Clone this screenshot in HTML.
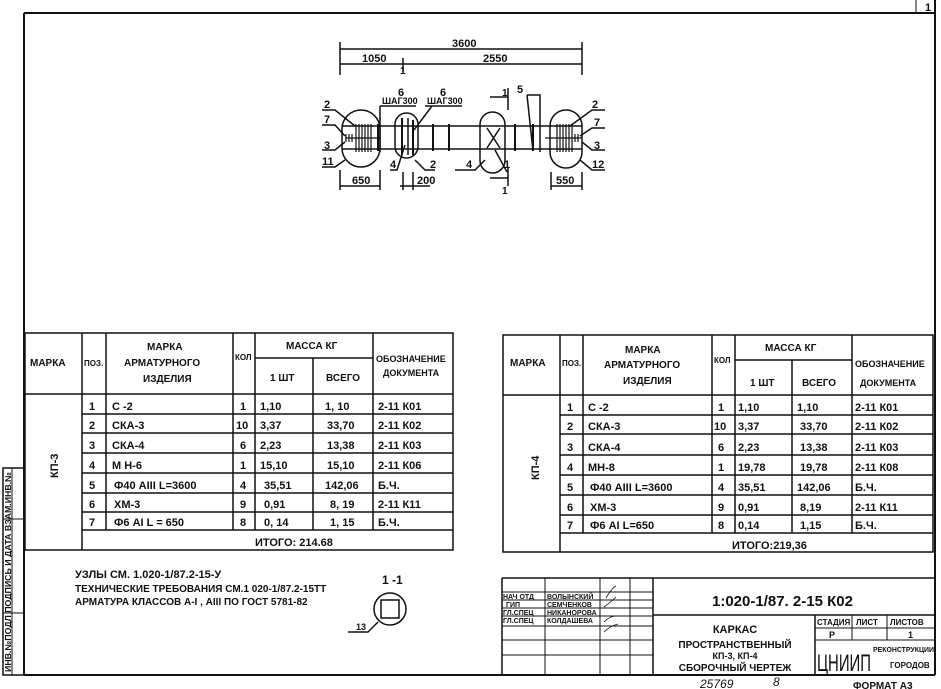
<!DOCTYPE html>
<html><head><meta charset="utf-8">
<style>
html,body{margin:0;padding:0;background:#fff;}
svg{display:block;}
text{font-family:"Liberation Sans Narrow","Liberation Sans",sans-serif;font-weight:bold;fill:#111;}
</style></head><body>
<svg width="941" height="689" viewBox="0 0 941 689" xmlns="http://www.w3.org/2000/svg">
<g stroke="#111" fill="none" stroke-width="2">
<line x1="24" y1="13" x2="935" y2="13"/>
<line x1="24" y1="13" x2="24" y2="675"/>
<line x1="935" y1="0" x2="935" y2="675"/>
<line x1="24" y1="675" x2="935" y2="675"/>
<line x1="916" y1="0" x2="916" y2="13" stroke-width="1"/>
<rect x="3" y="468" width="21" height="207" stroke-width="1.5"/>
<line x1="12" y1="468" x2="12" y2="675" stroke-width="1"/>
<line x1="3" y1="519" x2="24" y2="519" stroke-width="1"/>
<line x1="3" y1="613" x2="24" y2="613" stroke-width="1"/>
</g>
<text x="925" y="11" font-size="11">1</text>
<text transform="translate(11,672) rotate(-90)" font-size="8.5" textLength="200" lengthAdjust="spacingAndGlyphs">ИНВ.№ПОДЛ ПОДПИСЬ И ДАТА ВЗАМ.ИНВ.№</text>

<!-- drawing -->
<g stroke="#111" fill="none" stroke-width="1.5">
<line x1="340" y1="49" x2="582" y2="49"/>
<line x1="340" y1="64" x2="582" y2="64"/>
<line x1="340" y1="42" x2="340" y2="75"/>
<line x1="582" y1="42" x2="582" y2="75"/>
<line x1="403" y1="58" x2="403" y2="72"/>
<line x1="342" y1="126" x2="582" y2="126"/>
<line x1="342" y1="149" x2="582" y2="149"/>
<rect x="342" y="110" width="38" height="57" rx="19"/>
<rect x="395" y="113" width="23" height="45" rx="11.5"/>
<rect x="480" y="112" width="25" height="61" rx="12.5"/>
<rect x="550" y="110" width="32" height="58" rx="16"/>
<g stroke-width="1.2">
<line x1="356" y1="124" x2="356" y2="152"/><line x1="359" y1="124" x2="359" y2="152"/><line x1="362" y1="124" x2="362" y2="152"/><line x1="365" y1="124" x2="365" y2="152"/><line x1="368" y1="124" x2="368" y2="152"/><line x1="371" y1="124" x2="371" y2="152"/>
<line x1="345" y1="138" x2="380" y2="138"/><line x1="346" y1="134" x2="346" y2="142"/><line x1="349" y1="134" x2="349" y2="142"/><line x1="352" y1="134" x2="352" y2="142"/>
<line x1="557" y1="124" x2="557" y2="152"/><line x1="560" y1="124" x2="560" y2="152"/><line x1="563" y1="124" x2="563" y2="152"/><line x1="566" y1="124" x2="566" y2="152"/><line x1="569" y1="124" x2="569" y2="152"/><line x1="572" y1="124" x2="572" y2="152"/>
<line x1="545" y1="138" x2="582" y2="138"/><line x1="575" y1="134" x2="575" y2="142"/><line x1="578" y1="134" x2="578" y2="142"/>
</g>
<line x1="378" y1="124" x2="378" y2="151" stroke-width="2"/>
<line x1="402" y1="118" x2="402" y2="155" stroke-width="2"/>
<line x1="408" y1="118" x2="408" y2="155"/>
<line x1="413" y1="120" x2="413" y2="155" stroke-width="2"/>
<line x1="433" y1="124" x2="433" y2="151" stroke-width="2"/>
<line x1="449" y1="124" x2="449" y2="151" stroke-width="2"/>
<line x1="515" y1="124" x2="515" y2="151" stroke-width="2"/>
<line x1="533" y1="124" x2="533" y2="151" stroke-width="2"/>
<line x1="487" y1="128" x2="500" y2="148"/><line x1="500" y1="128" x2="487" y2="148"/>
<polyline points="322,110 335,110 355,126"/>
<polyline points="322,125 335,125 345,136"/>
<polyline points="322,150 335,150 345,142"/>
<polyline points="322,167 335,167 345,160"/>
<polyline points="380,106 380,152"/><line x1="380" y1="106" x2="416" y2="106"/>
<polyline points="432,106 414,130"/><line x1="425" y1="106" x2="462" y2="106"/>
<polyline points="390,170 397,170 405,145"/>
<polyline points="435,170 425,170 415,160"/>
<polyline points="455,170 475,170 485,160"/>
<polyline points="507,172 495,150"/>
<line x1="508" y1="88" x2="508" y2="110"/><line x1="490" y1="97" x2="508" y2="97"/>
<line x1="508" y1="168" x2="508" y2="186"/><line x1="490" y1="178" x2="508" y2="178"/>
<polyline points="527,95 540,95 540,152"/><line x1="527" y1="95" x2="533" y2="151"/>
<polyline points="605,110 592,110 570,126"/>
<polyline points="605,128 592,128 580,136"/>
<polyline points="605,150 592,150 582,142"/>
<polyline points="605,170 592,170 580,160"/>
<line x1="340" y1="170" x2="340" y2="190"/><line x1="380" y1="170" x2="380" y2="190"/><line x1="340" y1="186" x2="380" y2="186"/>
<line x1="403" y1="172" x2="403" y2="190"/><line x1="413" y1="172" x2="413" y2="190"/><line x1="400" y1="186" x2="430" y2="186"/>
<line x1="551" y1="172" x2="551" y2="190"/><line x1="582" y1="172" x2="582" y2="190"/><line x1="551" y1="186" x2="582" y2="186"/>
</g>
<g font-size="11">
<text x="452" y="47">3600</text>
<text x="362" y="62">1050</text>
<text x="483" y="62">2550</text>
<text x="400" y="74" font-size="10">1</text>
<text x="398" y="96">6</text><text x="382" y="104" font-size="9">ШАГ300</text>
<text x="440" y="96">6</text><text x="427" y="104" font-size="9">ШАГ300</text>
<text x="517" y="93">5</text>
<text x="502" y="96" font-size="10">1</text>
<text x="502" y="194" font-size="10">1</text>
<text x="324" y="108">2</text><text x="324" y="123">7</text><text x="324" y="149">3</text><text x="322" y="165">11</text>
<text x="592" y="108">2</text><text x="594" y="126">7</text><text x="594" y="149">3</text><text x="592" y="168">12</text>
<text x="390" y="168">4</text><text x="430" y="168">2</text><text x="466" y="168">4</text><text x="504" y="168">1</text>
<text x="352" y="184">650</text><text x="417" y="184">200</text><text x="556" y="184">550</text>
</g>

<!-- left table -->
<g stroke="#111" fill="none" stroke-width="1.5">
<rect x="25" y="333" width="428" height="217"/>
<line x1="25" y1="394" x2="453" y2="394"/>
<line x1="82" y1="333" x2="82" y2="550"/>
<line x1="106" y1="333" x2="106" y2="530"/>
<line x1="233" y1="333" x2="233" y2="530"/>
<line x1="255" y1="333" x2="255" y2="530"/>
<line x1="313" y1="358" x2="313" y2="530"/>
<line x1="373" y1="333" x2="373" y2="530"/>
<line x1="255" y1="358" x2="373" y2="358"/>
<line x1="82" y1="414" x2="453" y2="414"/><line x1="82" y1="433" x2="453" y2="433"/><line x1="82" y1="453" x2="453" y2="453"/><line x1="82" y1="473" x2="453" y2="473"/><line x1="82" y1="493" x2="453" y2="493"/><line x1="82" y1="512" x2="453" y2="512"/><line x1="82" y1="530" x2="453" y2="530"/>
</g>
<g font-size="10">
<text x="30" y="366">МАРКА</text><text x="84" y="366" font-size="8">ПОЗ.</text>
<text x="147" y="350">МАРКА</text><text x="124" y="366">АРМАТУРНОГО</text><text x="143" y="382">ИЗДЕЛИЯ</text>
<text x="235" y="360" font-size="8">КОЛ</text>
<text x="286" y="349">МАССА КГ</text><text x="270" y="381">1 ШТ</text><text x="326" y="381">ВСЕГО</text>
<text x="376" y="362" font-size="9">ОБОЗНАЧЕНИЕ</text><text x="383" y="376" font-size="9">ДОКУМЕНТА</text>
</g>
<text transform="translate(58,478) rotate(-90)" font-size="11">КП-3</text>
<g font-size="11">
<text x="89" y="410">1</text><text x="112" y="410">С -2</text><text x="240" y="410">1</text><text x="260" y="410">1,10</text><text x="325" y="410">1, 10</text><text x="378" y="410">2-11  К01</text>
<text x="89" y="429">2</text><text x="112" y="429">СКА-3</text><text x="236" y="429">10</text><text x="260" y="429">3,37</text><text x="327" y="429">33,70</text><text x="378" y="429">2-11  К02</text>
<text x="89" y="449">3</text><text x="112" y="449">СКА-4</text><text x="240" y="449">6</text><text x="260" y="449">2,23</text><text x="327" y="449">13,38</text><text x="378" y="449">2-11  К03</text>
<text x="89" y="469">4</text><text x="112" y="469">М Н-6</text><text x="240" y="469">1</text><text x="260" y="469">15,10</text><text x="327" y="469">15,10</text><text x="378" y="469">2-11 К06</text>
<text x="89" y="489">5</text><text x="114" y="489">Ф40 АIII  L=3600</text><text x="240" y="489">4</text><text x="264" y="489">35,51</text><text x="325" y="489">142,06</text><text x="378" y="489">Б.Ч.</text>
<text x="89" y="508">6</text><text x="114" y="508">ХМ-3</text><text x="240" y="508">9</text><text x="264" y="508">0,91</text><text x="330" y="508">8, 19</text><text x="378" y="508">2-11  К11</text>
<text x="89" y="526">7</text><text x="114" y="526">Ф6 АI   L = 650</text><text x="240" y="526">8</text><text x="264" y="526">0, 14</text><text x="330" y="526">1, 15</text><text x="378" y="526">Б.Ч.</text>
<text x="255" y="546">ИТОГО:  214.68</text>
</g>

<!-- right table -->
<g stroke="#111" fill="none" stroke-width="1.5">
<rect x="503" y="335" width="430" height="217"/>
<line x1="503" y1="395" x2="933" y2="395"/>
<line x1="560" y1="335" x2="560" y2="552"/>
<line x1="583" y1="335" x2="583" y2="533"/>
<line x1="712" y1="335" x2="712" y2="533"/>
<line x1="735" y1="335" x2="735" y2="533"/>
<line x1="792" y1="360" x2="792" y2="533"/>
<line x1="852" y1="335" x2="852" y2="533"/>
<line x1="735" y1="360" x2="852" y2="360"/>
<line x1="560" y1="415" x2="933" y2="415"/><line x1="560" y1="434" x2="933" y2="434"/><line x1="560" y1="455" x2="933" y2="455"/><line x1="560" y1="475" x2="933" y2="475"/><line x1="560" y1="495" x2="933" y2="495"/><line x1="560" y1="515" x2="933" y2="515"/><line x1="560" y1="533" x2="933" y2="533"/>
</g>
<g font-size="10">
<text x="510" y="366">МАРКА</text><text x="562" y="366" font-size="8">ПОЗ.</text>
<text x="625" y="353">МАРКА</text><text x="604" y="368">АРМАТУРНОГО</text><text x="623" y="384">ИЗДЕЛИЯ</text>
<text x="714" y="363" font-size="8">КОЛ</text>
<text x="765" y="351">МАССА КГ</text><text x="750" y="386">1 ШТ</text><text x="802" y="386">ВСЕГО</text>
<text x="855" y="367" font-size="9">ОБОЗНАЧЕНИЕ</text><text x="860" y="386" font-size="9">ДОКУМЕНТА</text>
</g>
<text transform="translate(539,480) rotate(-90)" font-size="11">КП-4</text>
<g font-size="11">
<text x="567" y="411">1</text><text x="588" y="411">С -2</text><text x="718" y="411">1</text><text x="738" y="411">1,10</text><text x="797" y="411">1,10</text><text x="855" y="411">2-11 К01</text>
<text x="567" y="430">2</text><text x="588" y="430">СКА-3</text><text x="714" y="430">10</text><text x="738" y="430">3,37</text><text x="800" y="430">33,70</text><text x="855" y="430">2-11 К02</text>
<text x="567" y="451">3</text><text x="588" y="451">СКА-4</text><text x="718" y="451">6</text><text x="738" y="451">2,23</text><text x="800" y="451">13,38</text><text x="855" y="451">2-11 К03</text>
<text x="567" y="471">4</text><text x="588" y="471">МН-8</text><text x="718" y="471">1</text><text x="738" y="471">19,78</text><text x="800" y="471">19,78</text><text x="855" y="471">2-11 К08</text>
<text x="567" y="491">5</text><text x="590" y="491">Ф40 АIII  L=3600</text><text x="718" y="491">4</text><text x="738" y="491">35,51</text><text x="797" y="491">142,06</text><text x="855" y="491">Б.Ч.</text>
<text x="567" y="511">6</text><text x="590" y="511">ХМ-3</text><text x="718" y="511">9</text><text x="738" y="511">0,91</text><text x="800" y="511">8,19</text><text x="855" y="511">2-11 К11</text>
<text x="567" y="529">7</text><text x="590" y="529">Ф6 АI     L=650</text><text x="718" y="529">8</text><text x="738" y="529">0,14</text><text x="800" y="529">1,15</text><text x="855" y="529">Б.Ч.</text>
<text x="732" y="549">ИТОГО:219,36</text>
</g>

<!-- notes -->
<g font-size="10">
<text x="75" y="578" font-size="11">УЗЛЫ СМ. 1.020-1/87.2-15-У</text>
<text x="75" y="592">ТЕХНИЧЕСКИЕ ТРЕБОВАНИЯ СМ.1 020-1/87.2-15ТТ</text>
<text x="75" y="605">АРМАТУРА КЛАССОВ А-I    , АIII ПО ГОСТ 5781-82</text>
<text x="382" y="584" font-size="12">1 -1</text>
<text x="356" y="630" font-size="9">13</text>
</g>
<g stroke="#111" fill="none" stroke-width="1.5">
<circle cx="390" cy="609" r="16"/>
<rect x="381" y="600" width="18" height="18"/>
<polyline points="348,632 368,632 378,622"/>
</g>

<!-- title block -->
<g stroke="#111" fill="none" stroke-width="1.5">
<line x1="502" y1="578" x2="935" y2="578"/>
<line x1="502" y1="578" x2="502" y2="675"/>
<line x1="545" y1="578" x2="545" y2="675" stroke-width="1"/>
<line x1="600" y1="578" x2="600" y2="675" stroke-width="1"/>
<line x1="630" y1="578" x2="630" y2="675" stroke-width="1"/>
<line x1="653" y1="578" x2="653" y2="675"/>
<g stroke-width="1">
<line x1="502" y1="592" x2="653" y2="592"/><line x1="502" y1="600" x2="653" y2="600"/><line x1="502" y1="608" x2="653" y2="608"/><line x1="502" y1="616" x2="653" y2="616"/><line x1="502" y1="626" x2="653" y2="626"/><line x1="502" y1="640" x2="653" y2="640"/><line x1="502" y1="655" x2="653" y2="655"/>
</g>
<line x1="653" y1="615" x2="935" y2="615"/>
<line x1="815" y1="615" x2="815" y2="675"/>
<line x1="815" y1="628" x2="935" y2="628" stroke-width="1"/>
<line x1="815" y1="640" x2="935" y2="640" stroke-width="1"/>
<line x1="852" y1="615" x2="852" y2="640" stroke-width="1"/>
<line x1="887" y1="615" x2="887" y2="640" stroke-width="1"/>
<path d="M606,598 q6,-10 10,-12 M604,607 q8,-6 12,-10 M604,622 q6,-6 12,-6 M604,632 q6,-6 14,-8" stroke-width="0.8"/>
</g>
<g font-size="7">
<text x="503" y="599">НАЧ ОТД</text><text x="547" y="599">ВОЛЫНСКИЙ</text>
<text x="506" y="607">ГИП</text><text x="547" y="607">СЕМЧЕНКОВ</text>
<text x="503" y="615">ГЛ.СПЕЦ</text><text x="547" y="615">НИКАНОРОВА</text>
<text x="503" y="623">ГЛ.СПЕЦ</text><text x="547" y="623">КОЛДАШЕВА</text>
<text x="817" y="625" font-size="8">СТАДИЯ</text><text x="856" y="625" font-size="8">ЛИСТ</text><text x="890" y="625" font-size="8">ЛИСТОВ</text>
<text x="829" y="638" font-size="9">Р</text><text x="908" y="638" font-size="9">1</text>
</g>
<text x="712" y="606" font-size="15">1:020-1/87. 2-15  К02</text>
<g font-size="10" text-anchor="middle">
<text x="735" y="633" font-size="11">КАРКАС</text>
<text x="735" y="648">ПРОСТРАНСТВЕННЫЙ</text>
<text x="735" y="659" font-size="9">КП-3, КП-4</text>
<text x="735" y="671">СБОРОЧНЫЙ ЧЕРТЕЖ</text>
</g>
<text x="817" y="671" font-size="24" textLength="54" lengthAdjust="spacingAndGlyphs" style="font-weight:normal">ЦНИИП</text>
<text x="873" y="652" font-size="7" textLength="61" lengthAdjust="spacingAndGlyphs">РЕКОНСТРУКЦИИ</text>
<text x="890" y="668" font-size="8">ГОРОДОВ</text>
<text x="700" y="688" font-size="12" style="font-weight:normal;font-style:italic">25769</text>
<text x="773" y="686" font-size="12" style="font-weight:normal;font-style:italic">8</text>
<text x="853" y="689" font-size="10">ФОРМАТ А3</text>
</svg>
</body></html>
